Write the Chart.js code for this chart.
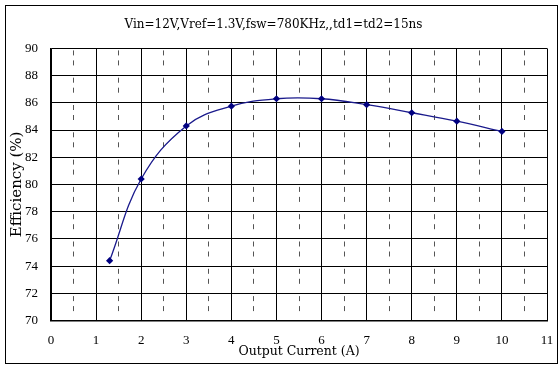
<!DOCTYPE html>
<html>
<head>
<meta charset="utf-8">
<script src="https://cdn.jsdelivr.net/npm/chart.js@4"></script>
<style>
  body { margin: 0; background: #fff; }
  #wrap { position: relative; width: 558px; height: 365px; }
  #frame { position: absolute; left: 5px; top: 5px; width: 553px; height: 359px; border: 1px solid #000; box-sizing: border-box; pointer-events: none; }
  canvas { position: absolute; left: 0; top: 0; }
</style>
</head>
<body>
<div id="wrap">
  <canvas id="effChart" width="558" height="365"></canvas>
  <div id="frame"></div>
</div>
<script>
// Dados
const corrente = [1.3, 2, 3, 4, 5, 6, 7, 8, 9, 10];
const eficiencia = [74.4, 80.4, 84.3, 85.75, 86.3, 86.3, 85.86, 85.27, 84.65, 83.9];

const titulo = "Vin=12V,Vref=1.3V,fsw=780KHz,,td1=td2=15ns";
const tituloX = "Output Current (A)";
const tituloY = "Efficiency (%)";

const FONTE = "'Liberation Serif', serif";
const FONTE_TEXTO = "'DejaVu Serif', serif";

const pontos = corrente.map((x, i) => ({ x: x, y: eficiencia[i] }));

const ehMeio = ctx => ctx.tick && Math.abs(ctx.tick.value % 1) > 0.01;

new Chart(document.getElementById("effChart"), {
  type: "scatter",
  data: {
    datasets: [{
      data: pontos,
      showLine: true,
      tension: 0.4,
      borderColor: "#1a1a8c",
      borderWidth: 1.3,
      backgroundColor: "#000080",
      pointStyle: "rectRot",
      pointRadius: 3.6,
      pointBorderWidth: 0,
      pointBackgroundColor: "#000080"
    }]
  },
  options: {
    responsive: false,
    animation: false,
    layout: { padding: { left: 0, right: 11, top: 0, bottom: 0 } },
    plugins: {
      legend: { display: false },
      tooltip: { enabled: false },
      title: {
        display: true,
        text: titulo,
        color: "#000",
        font: { family: FONTE_TEXTO, size: 12, weight: "normal" },
        padding: { top: 17.5, bottom: 16.5 }
      }
    },
    scales: {
      x: {
        type: "linear",
        min: 0,
        max: 11,
        afterFit: s => { s.height = 44.5; s.paddingRight = 0; s.paddingLeft = 0; },
        ticks: {
          stepSize: 0.5,
          autoSkip: false,
          maxRotation: 0,
          padding: 12,
          color: "#000",
          font: { family: FONTE, size: 13 },
          callback: v => (v % 1 === 0 ? v : "")
        },
        grid: {
          drawTicks: false,
          color: ctx => (ehMeio(ctx) ? "#555" : "#000"),
          lineWidth: 1
        },
        border: {
          display: true,
          color: "#000",
          width: 1.5,
          dash: ctx => (ehMeio(ctx) ? [5, 5, 5, 12.3] : []),
          dashOffset: ctx => (ehMeio(ctx) ? -2 : 0)
        },
        title: {
          display: true,
          text: tituloX,
          color: "#000",
          font: { family: FONTE_TEXTO, size: 12.5 },
          padding: { top: 0, bottom: 5.5 }
        }
      },
      y: {
        min: 70,
        max: 90,
        afterFit: s => { s.width = 51; },
        ticks: {
          stepSize: 2,
          padding: 13,
          color: "#000",
          font: { family: FONTE, size: 13 }
        },
        grid: {
          drawTicks: false,
          color: "#000",
          lineWidth: 1
        },
        border: { display: true, color: "#000", width: 1.5 },
        title: {
          display: true,
          text: tituloY,
          color: "#000",
          font: { family: FONTE_TEXTO, size: 15 },
          padding: { top: 8, bottom: 0 }
        }
      }
    }
  }
});
</script>
</body>
</html>
